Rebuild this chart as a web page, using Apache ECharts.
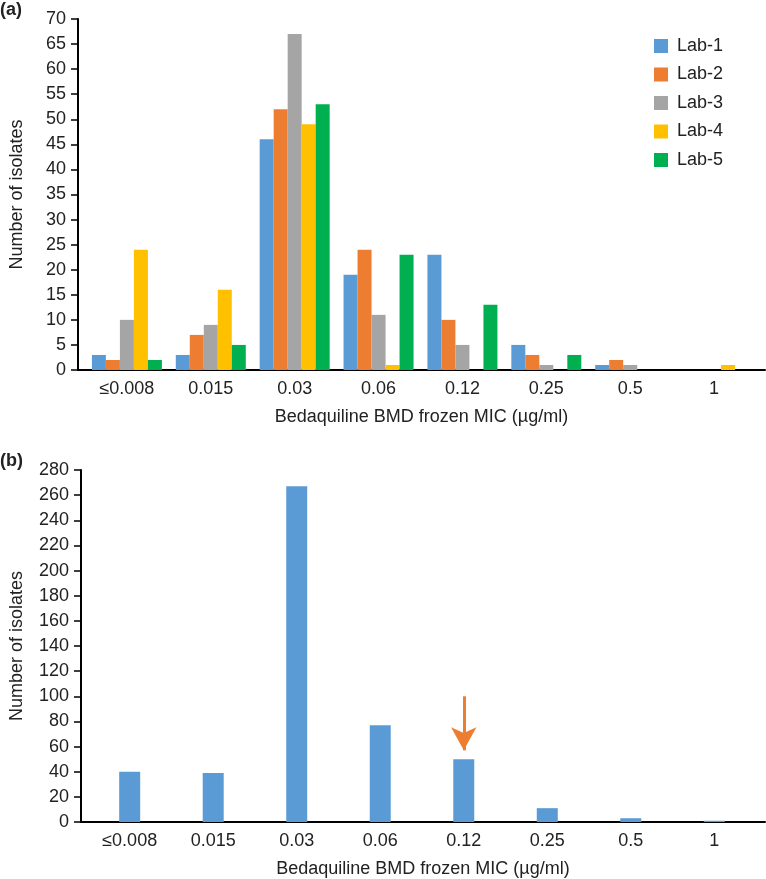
<!DOCTYPE html>
<html>
<head>
<meta charset="utf-8">
<script src="https://cdn.jsdelivr.net/npm/echarts@6/dist/echarts.min.js"></script>
<style>html,body{margin:0;padding:0;background:#fff}#c{width:766px;height:879px}</style>
</head>
<body>
<div id="c"></div>
<script>
const categories = ['≤0.008', '0.015', '0.03', '0.06', '0.12', '0.25', '0.5', '1'];
const labNames = ['Lab-1', 'Lab-2', 'Lab-3', 'Lab-4', 'Lab-5'];
const lab1 = [3, 3, 46, 19, 23, 5, 1, 0];
const lab2 = [2, 7, 52, 24, 10, 3, 2, 0];
const lab3 = [10, 9, 67, 11, 5, 1, 1, 0];
const lab4 = [24, 16, 49, 1, 0, 0, 0, 1];
const lab5 = [2, 5, 53, 23, 13, 3, 0, 0];
const totals = [40, 39, 267, 77, 50, 11, 3, 1];
const topTicks = { min: 0, max: 70, interval: 5 };
const bottomTicks = { min: 0, max: 280, interval: 20 };
const colors = ['#5B9BD5', '#ED7D31', '#A5A5A5', '#FFC000', '#00B050'];
const arrowFrom = 100, arrowTo = 57, arrowCategory = '0.12';

const FONT = "'Liberation Sans', Arial, sans-serif";
const labSeries = [lab1, lab2, lab3, lab4, lab5];
const catPos = categories.map((_, i) => i + 1);

function xAxisDef(gridIndex) {
  return {
    type: 'value', gridIndex, min: 0.417, max: 8.607,
    axisLine: { show: true, onZero: false, lineStyle: { color: '#000', width: 2 } },
    axisTick: { show: false },
    splitLine: { show: false },
    axisLabel: { customValues: catPos, formatter: v => categories[Math.round(v) - 1] ?? '', color: '#222', fontSize: 18, fontFamily: FONT, margin: 10 },
    name: 'Bedaquiline BMD frozen MIC (µg/ml)', nameLocation: 'middle', nameGap: 38,
    nameTextStyle: { color: '#222', fontSize: 18, fontFamily: FONT }
  };
}
function yAxisDef(gridIndex, t, gap) {
  return {
    type: 'value', gridIndex, min: t.min, max: t.max, interval: t.interval,
    axisLine: { show: true, onZero: false, lineStyle: { color: '#000', width: 2 } },
    axisTick: { show: true, length: 7, lineStyle: { color: '#000', width: 1.5 } },
    splitLine: { show: false },
    axisLabel: { color: '#222', fontSize: 18, fontFamily: FONT, margin: 12 },
    name: 'Number of isolates', nameLocation: 'middle', nameGap: gap,
    nameTextStyle: { color: '#222', fontSize: 18, fontFamily: FONT }
  };
}

const series = labSeries.map((arr, k) => ({
  type: 'bar', name: labNames[k], xAxisIndex: 0, yAxisIndex: 0,
  data: arr.map((v, i) => [catPos[i], v]), barWidth: 14, barGap: '0%',
  itemStyle: { color: colors[k] }
}));
const ax = catPos[categories.indexOf(arrowCategory)];
series.push({
  type: 'bar', name: 'Total', xAxisIndex: 1, yAxisIndex: 1,
  data: totals.map((v, i) => [catPos[i], v]), barWidth: 21,
  itemStyle: { color: colors[0] },
  markLine: {
    silent: true, symbol: ['none', 'arrow'], symbolSize: [19, 23],
    label: { show: false },
    lineStyle: { color: '#ED7D31', width: 3, type: 'solid' },
    data: [[{ coord: [ax, arrowFrom] }, { coord: [ax, arrowTo] }]]
  }
});

const chart = echarts.init(document.getElementById('c'), null, { renderer: 'canvas' });
chart.setOption({
  animation: false,
  backgroundColor: '#fff',
  title: [
    { text: '(a)', left: 0, top: 1, padding: 0, textStyle: { fontSize: 18, fontWeight: 'bold', fontFamily: FONT, color: '#222' } },
    { text: '(b)', left: 0, top: 452, padding: 0, textStyle: { fontSize: 18, fontWeight: 'bold', fontFamily: FONT, color: '#222' } }
  ],
  legend: {
    data: labNames, orient: 'vertical', left: 654, top: 37, itemWidth: 14, itemHeight: 14, itemGap: 10.5,
    icon: 'rect', padding: 0,
    textStyle: { fontSize: 18, fontFamily: FONT, color: '#222', padding: [0, 0, 0, 4] }
  },
  grid: [
    { left: 77, top: 19, width: 688, height: 351 },
    { left: 77, top: 470, width: 688, height: 352 }
  ],
  xAxis: [xAxisDef(0), xAxisDef(1)],
  yAxis: [yAxisDef(0, topTicks, 52), yAxisDef(1, bottomTicks, 55)],
  series
});
</script>
</body>
</html>
